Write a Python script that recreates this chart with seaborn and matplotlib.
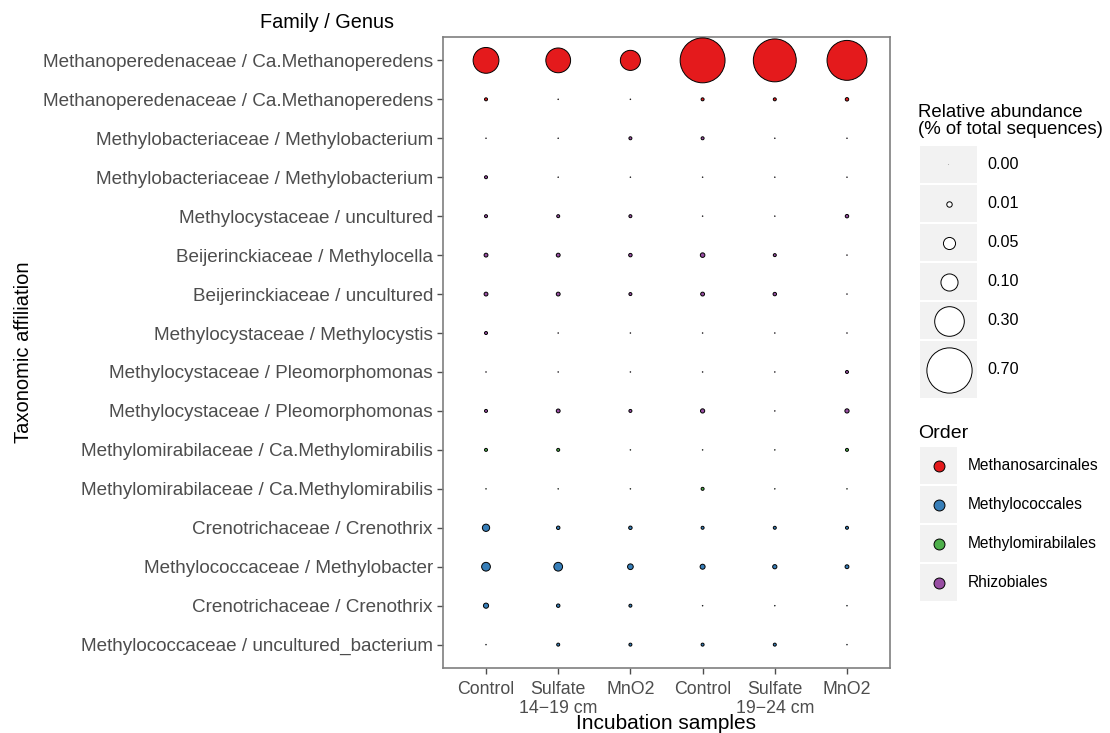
import matplotlib
matplotlib.use("Agg")
import matplotlib.pyplot as plt
import seaborn as sns
import pandas as pd
import numpy as np
from matplotlib.patches import Rectangle

# ---------------- data ----------------
sample_ids = ["C14", "S14", "M14", "C19", "S19", "M19"]
sample_labels = ["Control", "Sulfate\n14\u221219 cm", "MnO2",
                 "Control", "Sulfate\n19\u221224 cm", "MnO2"]

taxa_labels = [
    "Methanoperedenaceae / Ca.Methanoperedens",
    "Methanoperedenaceae / Ca.Methanoperedens",
    "Methylobacteriaceae / Methylobacterium",
    "Methylobacteriaceae / Methylobacterium",
    "Methylocystaceae / uncultured",
    "Beijerinckiaceae / Methylocella",
    "Beijerinckiaceae / uncultured",
    "Methylocystaceae / Methylocystis",
    "Methylocystaceae / Pleomorphomonas",
    "Methylocystaceae / Pleomorphomonas",
    "Methylomirabilaceae / Ca.Methylomirabilis",
    "Methylomirabilaceae / Ca.Methylomirabilis",
    "Crenotrichaceae / Crenothrix",
    "Methylococcaceae / Methylobacter",
    "Crenotrichaceae / Crenothrix",
    "Methylococcaceae / uncultured_bacterium",
]
taxa_order = [
    "Methanosarcinales", "Methanosarcinales",
    "Rhizobiales", "Rhizobiales", "Rhizobiales", "Rhizobiales",
    "Rhizobiales", "Rhizobiales", "Rhizobiales", "Rhizobiales",
    "Methylomirabilales", "Methylomirabilales",
    "Methylococcales", "Methylococcales", "Methylococcales", "Methylococcales",
]
abundance = [
    [0.228, 0.210, 0.138, 0.690, 0.630, 0.545],
    [0.003, 0.000, 0.000, 0.003, 0.003, 0.004],
    [0.000, 0.000, 0.003, 0.003, 0.000, 0.000],
    [0.003, 0.000, 0.000, 0.000, 0.000, 0.000],
    [0.003, 0.003, 0.003, 0.000, 0.000, 0.004],
    [0.005, 0.005, 0.004, 0.007, 0.003, 0.000],
    [0.005, 0.005, 0.003, 0.005, 0.004, 0.000],
    [0.003, 0.000, 0.000, 0.000, 0.000, 0.000],
    [0.000, 0.000, 0.000, 0.000, 0.000, 0.003],
    [0.003, 0.005, 0.003, 0.006, 0.000, 0.006],
    [0.003, 0.003, 0.000, 0.000, 0.000, 0.003],
    [0.000, 0.000, 0.000, 0.003, 0.000, 0.000],
    [0.018, 0.004, 0.004, 0.003, 0.003, 0.003],
    [0.026, 0.026, 0.011, 0.0085, 0.006, 0.005],
    [0.009, 0.004, 0.003, 0.000, 0.000, 0.000],
    [0.000, 0.003, 0.003, 0.003, 0.003, 0.000],
]
order_names = ["Methanosarcinales", "Methylococcales", "Methylomirabilales", "Rhizobiales"]
order_colors = ["#E41A1C", "#377EB8", "#4DAF4A", "#984EA3"]
legend_sizes = [0.00, 0.01, 0.05, 0.10, 0.30, 0.70]
legend_size_labels = ["0.00", "0.01", "0.05", "0.10", "0.30", "0.70"]

# ---------------- long table ----------------
rows = []
for i, (lab, order, vals) in enumerate(zip(taxa_labels, taxa_order, abundance)):
    for sid, v in zip(sample_ids, vals):
        rows.append({"sample": sid, "taxon": i, "Order": order, "abundance": v})
df = pd.DataFrame(rows)

SMIN, SMAX, VMAX = 0.15, 1060.0, 0.70
def area(v):
    return SMIN + (SMAX - SMIN) * v / VMAX

# ---------------- figure ----------------
sns.set_theme(style="white")
plt.rcParams["font.family"] = ["Liberation Sans", "DejaVu Sans"]

fig = plt.figure(figsize=(11.10, 7.33), dpi=100)
W, H = 1110, 733
left, right, top, bottom = 442.7, 890.3, 37.0, 668.0
ax = fig.add_axes([left / W, 1 - bottom / H, (right - left) / W, (bottom - top) / H])

sns.scatterplot(
    data=df, x="sample", y="taxon", hue="Order", size="abundance",
    hue_order=order_names, palette=order_colors,
    sizes=(SMIN, SMAX), size_norm=(0, VMAX),
    edgecolor="black", linewidth=0.7, legend=False, ax=ax, zorder=3,
)

ax.set_xlim(-0.6, len(sample_ids) - 0.4)
ax.set_ylim(len(taxa_labels) - 0.4, -0.6)
ax.set_xticks(range(len(sample_ids)))
ax.set_xticklabels(sample_labels, fontsize=12.8, color="#4D4D4D", linespacing=1.2)
ax.set_yticks(range(len(taxa_labels)))
ax.set_yticklabels(taxa_labels, fontsize=13.6, color="#4D4D4D")
ax.tick_params(axis="both", which="major", length=4, width=1.0, color="#4D4D4D",
               direction="out", bottom=True, left=True, pad=3)
ax.tick_params(axis="x", pad=5)
for s in ax.spines.values():
    s.set_color("#7F7F7F")
    s.set_linewidth(1.2)
ax.set_xlabel("Incubation samples", fontsize=15, color="black", labelpad=-2)
ax.set_ylabel("Taxonomic affiliation", fontsize=14.5, color="black")
ax.yaxis.set_label_coords((33 - left) / (right - left), 0.5)
ax.grid(False)

fig.text(327 / W, 1 - 22 / H, "Family / Genus", fontsize=14.3, ha="center", va="center", color="black")

# ---------------- legends (drawn in a pixel-space overlay) ----------------
lg = fig.add_axes([0, 0, 1, 1], zorder=5)
lg.set_xlim(0, W)
lg.set_ylim(H, 0)
lg.axis("off")
lg.patch.set_alpha(0)

lg.text(918, 121, "Relative abundance\n(% of total sequences)", fontsize=13.4,
        ha="left", va="center", linespacing=1.05, color="black")
box_tops = [146, 185, 224, 263, 302, 341]
box_heights = [37, 37, 37, 37, 37, 57]
for v, lab, bt, bh in zip(legend_sizes, legend_size_labels, box_tops, box_heights):
    lg.add_patch(Rectangle((920, bt), 57, bh, facecolor="#F2F2F2", edgecolor="none"))
    lg.scatter([948.5], [bt + bh / 2], s=area(v) if v > 0 else 0.6,
               facecolor="white" if v > 0 else "#AAAAAA",
               edgecolor="black" if v > 0 else "none", linewidth=0.7, zorder=3)
    lg.text(987, bt + bh / 2, lab, fontsize=11.6, ha="left", va="center", color="black")

lg.text(918, 433, "Order", fontsize=14, ha="left", va="center", color="black")
for k, (name, col) in enumerate(zip(order_names, order_colors)):
    bt = 447 + 39 * k
    lg.add_patch(Rectangle((920, bt), 37, 37, facecolor="#F2F2F2", edgecolor="none"))
    lg.scatter([938.5], [bt + 18.5], s=62, facecolor=col, edgecolor="black", linewidth=0.7, zorder=3)
    lg.text(968, bt + 18.5, name, fontsize=11.2, ha="left", va="center", color="black")

fig.savefig("out.png", dpi=100)
